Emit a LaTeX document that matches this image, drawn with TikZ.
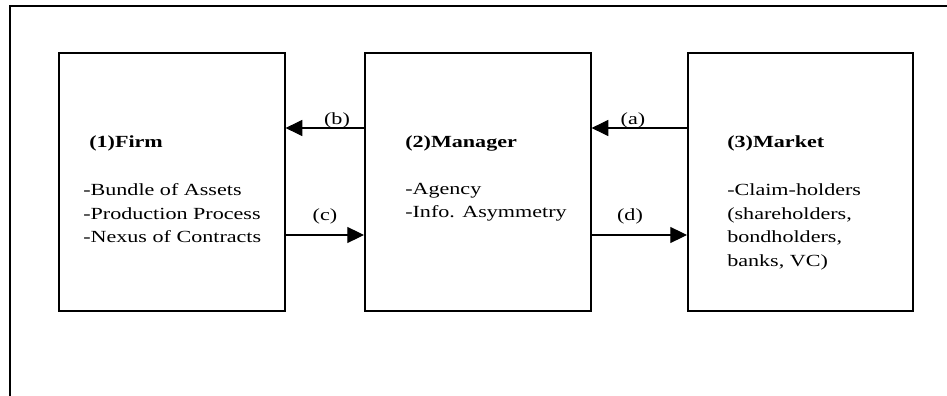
\documentclass[tikz,border=0pt]{standalone}
\usepackage{fontspec}
\setmainfont{Liberation Serif}[FakeStretch=1.3]
\usetikzlibrary{arrows.meta}
\begin{document}
\begin{tikzpicture}[x=0.75pt,y=-0.75pt,
  box/.style={draw, line width=1.2pt, inner sep=0pt, anchor=north west, minimum width=169.5pt, minimum height=193.5pt},
  txt/.style={anchor=base west, inner sep=0pt, font=\fontsize{12.75}{15}\selectfont},
  ttl/.style={anchor=base west, inner sep=0pt, font=\fontsize{12.75}{15}\selectfont\bfseries},
  lbl/.style={anchor=base, inner sep=0pt, font=\fontsize{12.75}{15}\selectfont},
  arr/.style={line width=0.8pt, -{Triangle[length=12.5pt,width=12pt]}}]
\useasboundingbox (0,0) rectangle (947,396);
% open frame
\draw[line width=1.2pt] (10,396) -- (10,6) -- (947,6);
% boxes
\node[box] (firm) at (58,52) {};
\node[box] (mgr) at (364,52) {};
\node[box, minimum width=168.75pt] (mkt) at (687,52) {};
% arrows
\draw[arr] (mgr.west |- 0,128) -- (firm.east |- 0,128);
\draw[arr] (firm.east |- 0,235) -- (mgr.west |- 0,235);
\draw[arr] (mkt.west |- 0,128) -- (mgr.east |- 0,128);
\draw[arr] (mgr.east |- 0,235) -- (mkt.west |- 0,235);
% arrow labels
\node[lbl] (lb) at (337,124) {(b)};
\node[lbl] (lc) at (325,220) {(c)};
\node[lbl] (la) at (633,124) {(a)};
\node[lbl] (ld) at (630,220) {(d)};
% firm text
\node[ttl] (ft) at (89,147) {(1)Firm};
\node[txt] (f1) at (83,195.5) {-Bundle of Assets};
\node[txt] (f2) at (83,219) {-Production Process};
\node[txt] (f3) at (83,242.5) {-Nexus of Contracts};
% manager text
\node[ttl] (mt) at (405,147) {(2)Manager};
\node[txt] (m1) at (405,194) {-Agency};
\node[txt] (m2) at (405,217) {-Info. Asymmetry};
% market text
\node[ttl] (kt) at (727,147) {(3)Market};
\node[txt] (k1) at (727,195.5) {-Claim-holders};
\node[txt] (k2) at (727,219) {(shareholders,};
\node[txt] (k3) at (727,242.5) {bondholders,};
\node[txt] (k4) at (727,266) {banks, VC)};
\end{tikzpicture}
\end{document}
